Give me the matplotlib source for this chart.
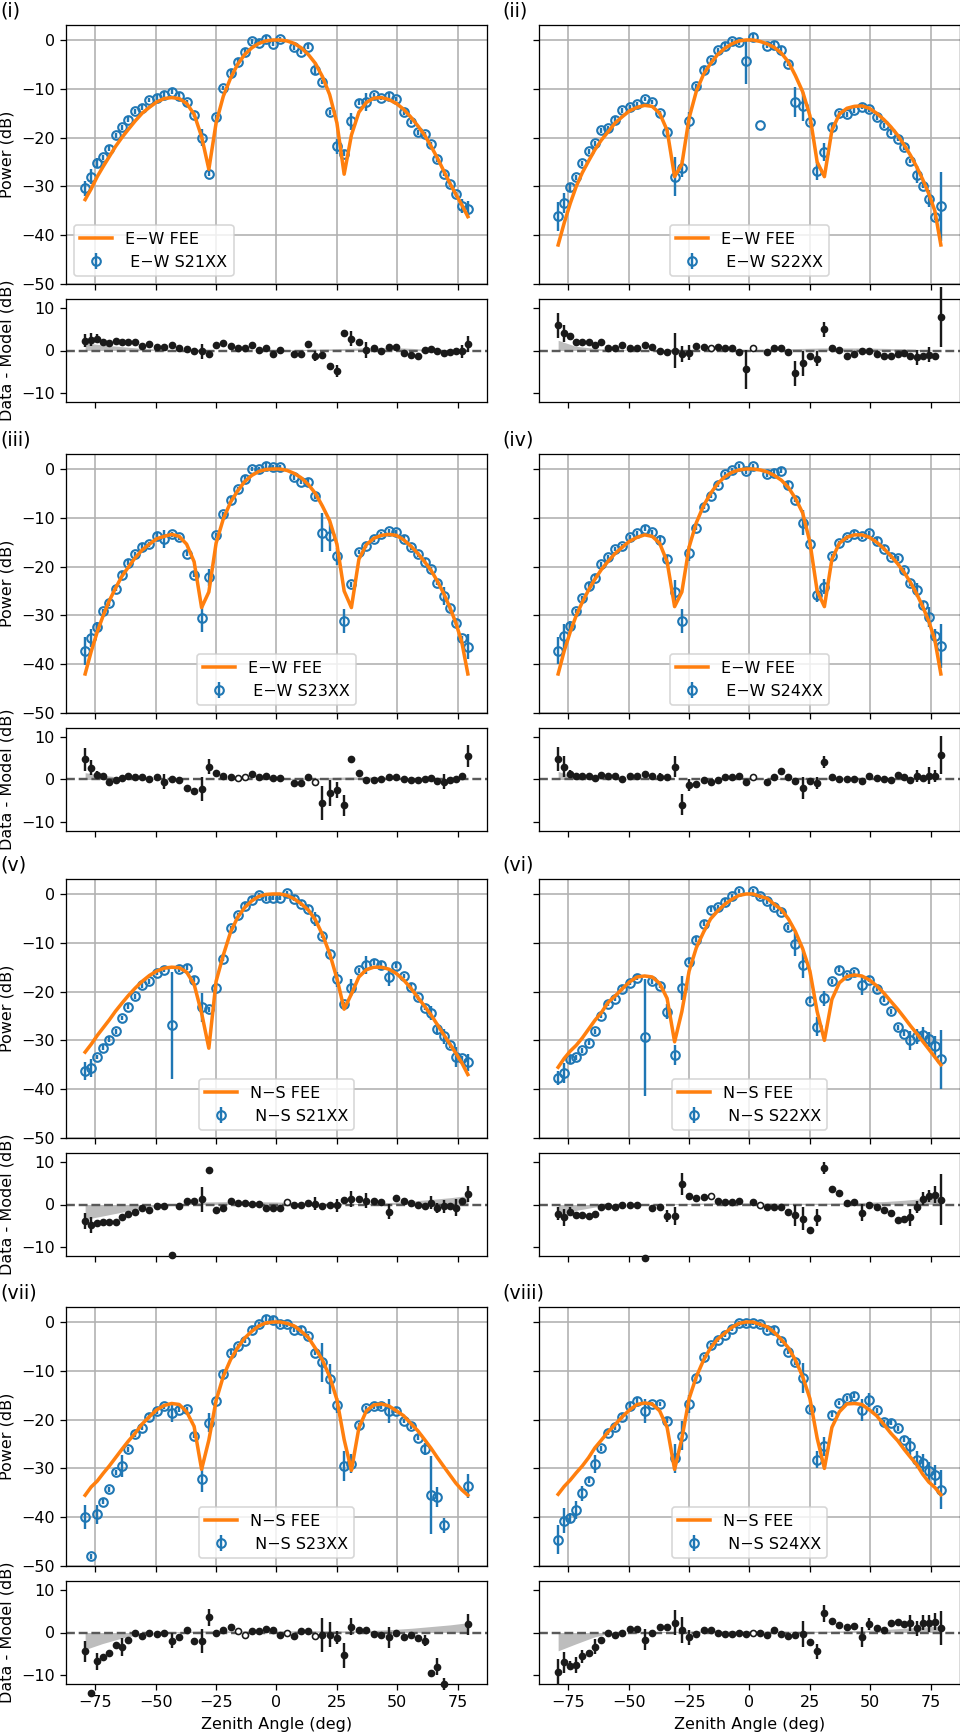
import numpy as np
import matplotlib
matplotlib.use("Agg")
import matplotlib.pyplot as plt

nan = np.nan

# zenith angle of each beam-slice sample (deg)
zenith = [-79.2, -76.7, -74.2, -71.7, -69.2, -66.6, -64.0, -61.3, -58.5, -55.6,
          -52.6, -49.6, -46.5, -43.4, -40.3, -37.2, -34.1, -31.0, -28.0, -25.0,
          -22.0, -19.0, -16.1, -13.2, -10.2, -7.3, -4.4, -1.4, 1.4, 4.4,
          7.3, 10.2, 13.2, 16.1, 19.0, 22.0, 25.0, 28.0, 31.0, 34.1,
          37.2, 40.3, 43.4, 46.5, 49.6, 52.6, 55.6, 58.5, 61.3, 64.0,
          66.6, 69.2, 71.7, 74.2, 76.7, 79.2]

tags = ["(i)", "(ii)", "(iii)", "(iv)", "(v)", "(vi)", "(vii)", "(viii)"]
pols = ["E\u2212W"] * 4 + ["N\u2212S"] * 4
tiles = ["S21XX", "S22XX", "S23XX", "S24XX"] * 2

# FEE model (dB)
fee_1 = [-32.7, -30.5, -28.0, -25.9, -23.9, -21.8, -20.0, -18.3, -16.6, -15.0,
         -13.8, -12.7, -12.0, -11.8, -12.0, -13.0, -15.2, -19.8, -26.5, -17.0,
         -11.5, -7.8, -5.0, -3.0, -1.6, -0.7, -0.2, 0.0, 0.0, -0.2,
         -0.7, -1.6, -3.0, -4.8, -7.5, -11.2, -17.0, -27.5, -19.5, -14.8,
         -12.8, -11.9, -11.8, -12.2, -13.0, -14.2, -15.8, -17.6, -19.5, -21.8,
         -24.2, -26.8, -29.3, -31.6, -33.8, -36.2]
fee_2 = [-42.0, -37.5, -33.5, -30.0, -27.2, -24.8, -22.5, -20.5, -18.8, -17.0,
         -15.7, -14.5, -13.8, -13.4, -13.6, -15.0, -18.5, -28.0, -25.5, -16.0,
         -10.5, -7.0, -4.8, -3.0, -1.7, -0.8, -0.2, 0.0, 0.0, -0.3,
         -0.8, -1.5, -2.7, -4.5, -7.3, -10.6, -15.5, -25.0, -28.0, -18.5,
         -15.2, -14.0, -13.6, -13.5, -14.0, -15.0, -16.3, -17.8, -19.5, -21.5,
         -23.6, -26.0, -28.6, -31.5, -35.0, -42.0]
fee_3 = [-42.0, -37.4, -33.4, -30.0, -27.0, -24.4, -22.0, -20.1, -18.2, -16.6,
         -15.4, -14.3, -13.8, -13.4, -13.8, -15.4, -19.0, -28.4, -25.2, -15.2,
         -10.2, -6.8, -4.5, -2.6, -1.3, -0.5, -0.1, 0.0, 0.0, -0.3,
         -0.9, -1.8, -3.2, -5.0, -7.6, -10.6, -15.4, -25.0, -28.4, -18.5,
         -15.5, -14.2, -13.6, -13.4, -13.6, -14.5, -15.8, -17.3, -19.0, -20.8,
         -23.0, -25.5, -28.3, -31.5, -35.5, -42.0]
fee_4 = [-42.0, -37.3, -33.4, -30.0, -27.3, -24.8, -22.6, -20.6, -18.9, -17.3,
         -16.0, -14.8, -14.0, -13.5, -13.8, -15.2, -19.0, -28.2, -25.2, -16.0,
         -11.0, -7.5, -5.0, -3.0, -1.6, -0.7, -0.2, 0.0, 0.0, -0.2,
         -0.6, -1.3, -2.3, -3.8, -6.0, -9.0, -15.0, -25.0, -28.2, -18.5,
         -15.2, -14.0, -13.5, -13.5, -14.0, -15.0, -16.3, -17.8, -19.4, -21.2,
         -23.2, -25.6, -28.2, -31.2, -35.0, -42.0]
fee_5 = [-32.4, -30.8, -29.0, -27.4, -25.8, -24.0, -22.4, -20.8, -19.3, -17.9,
         -16.7, -15.8, -15.2, -15.0, -15.1, -16.0, -18.5, -24.4, -31.6, -17.9,
         -12.5, -7.8, -4.8, -2.8, -1.4, -0.5, -0.1, 0.0, 0.0, -0.3,
         -1.0, -2.0, -3.3, -5.3, -8.3, -12.2, -17.3, -23.6, -20.5, -17.0,
         -15.5, -15.0, -15.0, -15.4, -16.3, -17.6, -19.3, -21.2, -23.0, -24.8,
         -26.8, -28.8, -30.7, -32.6, -34.6, -37.0]
fee_6 = [-35.5, -33.7, -32.2, -31.0, -29.5, -27.7, -25.9, -24.3, -22.2, -20.9,
         -19.4, -18.0, -17.0, -16.8, -17.0, -18.3, -21.4, -30.3, -24.1, -15.8,
         -11.0, -7.8, -5.1, -3.5, -2.1, -1.1, -0.3, 0.0, 0.0, -0.5,
         -0.9, -2.1, -3.2, -5.1, -7.7, -11.2, -15.8, -24.1, -30.0, -21.6,
         -18.2, -16.9, -16.6, -16.8, -17.6, -18.8, -20.3, -22.0, -23.6, -25.3,
         -27.0, -28.6, -30.2, -31.8, -33.4, -35.0]
fee_7 = [-35.5, -33.8, -32.6, -31.0, -29.5, -27.8, -26.1, -24.4, -22.8, -20.9,
         -19.4, -18.0, -17.1, -16.7, -16.9, -18.4, -21.4, -30.2, -24.2, -16.1,
         -11.1, -7.7, -5.3, -3.3, -1.9, -0.8, -0.2, 0.0, 0.0, -0.3,
         -0.8, -1.9, -3.2, -5.4, -7.8, -11.2, -15.9, -24.1, -30.4, -21.7,
         -18.2, -17.0, -16.8, -17.2, -18.2, -19.2, -20.8, -22.3, -24.1, -25.9,
         -27.8, -29.6, -31.3, -33.0, -34.4, -35.5]
fee_8 = [-35.3, -33.7, -32.4, -30.9, -29.5, -27.8, -25.8, -24.2, -22.5, -21.0,
         -19.4, -18.0, -16.9, -16.6, -16.8, -18.2, -21.6, -30.2, -23.9, -15.7,
         -11.2, -7.8, -5.3, -3.5, -2.3, -1.1, -0.3, 0.0, 0.0, -0.5,
         -1.0, -2.1, -3.6, -5.3, -7.8, -11.2, -15.7, -23.8, -30.0, -21.6,
         -18.4, -16.8, -16.7, -16.9, -18.0, -19.2, -21.0, -22.8, -24.3, -26.1,
         -27.7, -29.2, -31.2, -32.8, -33.9, -35.4]

# data - model (dB)
res_1 = [2.3, 2.5, 2.8, 1.9, 1.65, 2.3, 2.1, 2.0, 2.0, 1.1,
         1.5, 0.9, 0.8, 1.2, 0.55, 0.3, -0.1, -0.2, -0.9, 1.2,
         1.65, 1.1, 0.55, 0.55, 1.3, 0.15, 0.5, -0.8, 0.15, nan,
         -0.8, -0.8, 1.6, -1.3, -1.1, -3.6, -4.8, 4.2, 2.8, 1.9,
         0.15, 0.55, -0.1, 0.8, 0.9, -0.6, -1.0, -1.3, 0.15, 0.4,
         -0.2, -0.6, -0.3, 0.0, -0.2, 1.5]
res_2 = [5.9, 4.1, 3.3, 1.9, 1.9, 2.0, 1.3, 2.0, 0.7, 0.7,
         1.3, 0.7, 0.6, 1.3, 0.9, 0.0, -0.4, 0.0, -0.8, -0.5,
         1.0, 0.9, 0.6, 0.9, 0.5, 0.6, -0.3, -4.4, 0.7, -17.1,
         -0.4, 0.5, 0.7, -0.4, -5.4, -3.0, -1.3, -1.9, 5.0, 0.7,
         0.2, -1.2, -0.8, -0.2, -0.2, -0.8, -1.2, -1.2, -0.8, -0.5,
         -1.2, -1.6, -1.3, -1.0, -1.3, 7.9]
res_3 = [4.7, 2.8, 1.1, 0.8, -0.5, -0.2, 0.3, 0.9, 0.7, 0.7,
         0.0, 0.6, -0.5, 0.0, -0.2, -2.0, -2.7, -2.2, 3.0, 1.6,
         0.9, 0.5, 0.3, 0.6, 1.3, 0.5, 0.8, 0.4, 0.4, nan,
         -0.8, -0.8, 0.6, -0.6, -5.5, -3.2, -2.5, -6.1, 4.8, 1.5,
         -0.2, -0.2, 0.2, 0.6, 0.6, 0.2, -0.2, -0.2, 0.0, 0.3,
         -0.3, -0.5, -0.2, 0.0, 0.8, 5.6]
res_4 = [4.8, 3.0, 1.3, 0.9, 0.8, 0.9, 0.3, 1.1, 0.8, 0.9,
         0.2, 0.8, 0.8, 1.3, 0.8, 0.6, 0.6, 3.0, -5.9, -1.3,
         -1.1, -0.2, -0.5, -0.2, 0.5, 0.5, 0.8, -0.5, 0.6, nan,
         -0.5, 0.5, 1.9, 0.6, -0.3, -2.0, -0.3, -0.8, 4.1, 0.6,
         0.0, 0.0, 0.2, -0.3, 0.8, 0.3, 0.0, -0.2, 1.1, 0.5,
         -0.2, 0.8, 0.4, 0.9, 0.8, 5.8]
res_5 = [-3.9, -4.8, -4.4, -4.1, -4.1, -4.1, -3.0, -2.3, -1.7, -0.8,
         -1.2, -0.3, -0.3, -11.9, -0.3, 0.9, 0.9, 1.2, 8.0, -1.4,
         -0.8, 0.8, 0.4, 0.4, 0.2, 0.2, -0.8, -0.8, -0.8, 0.5,
         0.0, 0.0, 0.3, 0.2, -0.3, -0.2, -0.2, 1.0, 1.3, 1.4,
         0.9, 0.9, 0.5, -1.7, 1.6, 0.8, 0.3, 0.0, -0.3, 0.4,
         -0.8, -0.4, -0.3, -0.8, 0.9, 2.5]
res_6 = [-2.2, -3.0, -1.7, -2.5, -2.5, -2.8, -2.2, -0.6, -0.3, -0.6,
         0.0, -0.2, -0.2, -12.6, -0.9, -0.5, -2.7, -2.7, 4.8, 1.9,
         1.6, 1.7, 1.9, 0.8, 0.5, 0.6, 0.9, nan, 0.6, 0.0,
         -0.6, -0.6, -0.5, -1.7, -2.5, -3.3, -6.1, -3.1, 8.6, 3.75,
         2.7, 0.3, 0.6, -1.9, 0.0, -0.6, -1.4, -2.0, -3.7, -3.3,
         -3.0, -0.6, 1.4, 2.0, 2.3, 1.1]
res_7 = [-4.4, -14.2, -6.8, -5.8, -4.8, -3.0, -3.4, -1.7, -0.2, -0.8,
         0.0, -0.3, -0.2, -1.9, -1.1, 0.5, -1.9, -1.9, 3.6, 0.0,
         0.5, 1.4, 0.3, -0.5, 0.3, 0.3, 0.9, 0.5, -0.5, -0.2,
         -0.8, 0.3, 0.3, -0.9, -0.5, -0.5, -1.2, -5.4, 1.4, 0.5,
         0.5, -0.3, -0.5, -1.1, 0.0, -1.1, -0.6, -1.4, -1.9, -9.5,
         -8.1, -12.1, nan, nan, nan, 1.9]
res_8 = [-9.3, -7.0, -7.8, -7.6, -5.6, -4.7, -3.3, -1.7, -0.2, -0.6,
         0.0, 0.8, 0.8, -1.7, 0.0, 1.4, 1.4, 2.3, 0.6, -1.1,
         -0.3, 0.6, 0.5, -0.2, -0.3, -0.3, 0.0, -0.3, -0.2, 0.0,
         -0.6, 0.5, -0.3, -0.8, -0.5, -0.3, -2.2, -4.4, 4.5, 2.6,
         1.8, 1.2, 1.6, -1.1, 2.0, 1.1, 0.5, 2.2, 2.5, 2.0,
         2.2, 1.0, 2.3, 2.2, 2.5, 1.0]

# 1-sigma errors: 0.5 dB unless listed (index: err)
err_base = 0.5
err_1 = {0: 1.5, 1: 1.5, 2: 1.0, 17: 1.8, 33: 1.1, 36: 1.5, 38: 1.8, 40: 1.8, 54: 1.5, 55: 1.8}
err_2 = {0: 3.0, 1: 2.0, 2: 0.8, 17: 4.0, 18: 1.8, 19: 1.8, 27: 4.6, 29: nan, 34: 3.0,
         35: 3.0, 37: 1.8, 38: 1.8, 51: 1.8, 53: 1.8, 55: 7.0}
err_3 = {0: 2.8, 1: 1.8, 2: 1.0, 12: 1.8, 17: 2.8, 18: 1.8, 34: 4.0, 35: 3.0, 36: 1.8,
         37: 2.5, 51: 1.8, 55: 2.6}
err_4 = {0: 2.8, 1: 2.5, 2: 1.0, 15: 1.0, 17: 2.5, 18: 2.5, 19: 1.5, 35: 2.5, 37: 1.5,
         38: 1.5, 51: 1.5, 53: 2.0, 54: 1.5, 55: 4.5}
err_5 = {0: 1.8, 1: 1.8, 13: 11.0, 17: 3.0, 33: 1.5, 36: 1.5, 38: 1.8, 40: 1.8, 43: 1.8,
         49: 1.5, 50: 1.2, 51: 1.5, 53: 2.0, 55: 1.8}
err_6 = {0: 1.5, 1: 2.0, 2: 1.0, 13: 12.0, 16: 1.5, 17: 2.0, 18: 2.5, 34: 2.5, 35: 2.8,
         37: 2.0, 38: 1.5, 43: 2.0, 50: 2.0, 51: 1.5, 52: 1.5, 53: 1.5, 54: 2.0, 55: 6.0}
err_7 = {0: 2.5, 2: 2.0, 6: 2.2, 13: 1.8, 17: 2.8, 18: 2.0, 34: 4.0, 35: 3.0, 36: 1.5,
         37: 3.0, 38: 2.0, 43: 2.5, 48: 1.2, 49: 8.0, 50: 2.0, 51: 1.5, 55: 2.5}
err_8 = {0: 3.0, 1: 2.5, 2: 1.0, 3: 1.8, 4: 1.5, 6: 1.8, 13: 2.5, 17: 3.0, 18: 3.0, 19: 1.8,
         35: 3.0, 37: 1.8, 38: 2.0, 43: 2.3, 44: 1.5, 50: 1.8, 51: 1.8, 52: 1.8, 53: 2.0,
         54: 2.0, 55: 4.0}

# residual-panel errors that differ from the power-panel ones
res_err_5 = {13: 0.6}
res_err_6 = {13: 0.6}
res_err_7 = {49: 0.8}

# residual points drawn open
hollow = [[], [22, 28], [22, 23, 33], [28], [29], [22, 29], [22, 23, 29, 33], [28]]

# grey band in residual panels
band_za = [-79.2, -72, -64, -56, -48, -40, -30, -15, 0, 15, 30, 40, 48, 56, 64, 72, 79.2]
band_1 = [1.8, 1.3, 0.9, 0.5, 0.3, 0.1, 0.0, 0.0, 0.1, 0.3, 0.5, 0.7, 0.7, 0.5, 0.2, 0.1, 0.0]
band_2 = [2.4, 1.0, 0.5, 0.2, 0.1, 0.0, 0.0, 0.0, 0.2, 0.4, 0.6, 0.6, 0.6, 0.5, 0.4, 0.2, 0.0]
band_3 = [1.6, 1.0, 0.5, 0.2, 0.1, 0.0, 0.0, 0.0, 0.2, 0.4, 0.6, 0.6, 0.5, 0.3, 0.2, 0.1, 0.0]
band_4 = [1.9, 0.5, 0.2, 0.1, 0.1, 0.0, 0.0, 0.0, 0.1, 0.3, 0.5, 0.5, 0.4, 0.3, 0.2, 0.1, 0.0]
band_5 = [-3.5, -2.7, -1.8, -1.0, -0.3, 0.2, 0.6, 0.7, 0.6, 0.3, 0.2, 0.3, 0.5, 0.8, 1.2, 1.6, 2.1]
band_6 = [-2.5, -1.4, -0.6, -0.1, 0.0, 0.0, 0.2, 0.4, 0.4, 0.3, 0.3, 0.4, 0.5, 0.7, 1.0, 1.4, 1.6]
band_7 = [-4.0, -2.6, -1.3, -0.4, 0.0, 0.2, 0.4, 0.4, 0.4, 0.4, 0.4, 0.5, 0.7, 1.0, 1.4, 1.8, 2.3]
band_8 = [-4.3, -2.7, -1.0, 0.0, 0.0, 0.2, 0.3, 0.4, 0.4, 0.3, 0.3, 0.4, 0.5, 0.7, 1.0, 1.3, 1.5]

fees = [fee_1, fee_2, fee_3, fee_4, fee_5, fee_6, fee_7, fee_8]
ress = [res_1, res_2, res_3, res_4, res_5, res_6, res_7, res_8]
errs = [err_1, err_2, err_3, err_4, err_5, err_6, err_7, err_8]
res_errs = [{}, {}, {}, {}, res_err_5, res_err_6, res_err_7, {}]
bands = [band_1, band_2, band_3, band_4, band_5, band_6, band_7, band_8]

W, H = 961, 1732
fig = plt.figure(figsize=(W / 115, H / 115), dpi=115)

col_x = [66, 539]
row_top = [25, 454, 879, 1307]
ax_w = 421


def box(x, top, w, h):
    return [x / W, 1 - (top + h) / H, w / W, h / H]


za = np.array(zenith)
for k in range(8):
    r, c = divmod(k, 2)
    model = np.array(fees[k])
    resid = np.array(ress[k])
    data = model + resid
    err = np.full(len(za), err_base)
    for i, v in errs[k].items():
        err[i] = v
    rerr = err.copy()
    for i, v in res_errs[k].items():
        rerr[i] = v

    ax = fig.add_axes(box(col_x[c], row_top[r], ax_w, 259))
    axr = fig.add_axes(box(col_x[c], row_top[r] + 274, ax_w, 103))

    # main panel
    ax.errorbar(za, data, yerr=err, fmt="o", ms=5.4, mfc="none", mec="C0", mew=1.3,
                ecolor="C0", elinewidth=1.5, label=f" {pols[k]} {tiles[k]}", zorder=2)
    ax.plot(za, model, color="C1", lw=2.2, label=f"{pols[k]} FEE", zorder=3)
    ax.grid(True, color="#b0b0b0", lw=1.0)
    ax.set_axisbelow(True)
    ax.set_xlim(-87.12, 87.12)
    ax.set_ylim(-50, 3.07)
    ax.set_xticks([-75, -50, -25, 0, 25, 50, 75])
    ax.set_yticks([-50, -40, -30, -20, -10, 0])
    ax.tick_params(labelbottom=False, labelleft=(c == 0))
    ax.legend(loc="lower left" if k == 0 else "lower center")
    if c == 0:
        ax.set_ylabel("Power (dB)")

    # residual panel
    axr.fill_between(band_za, 0, bands[k], color="0.74", lw=0, zorder=1)
    axr.axhline(0, color="0.35", ls="--", lw=1.5, zorder=2)
    solid = np.isfinite(err) & np.isfinite(resid)
    solid[hollow[k]] = False
    axr.errorbar(za[solid], resid[solid], yerr=rerr[solid], fmt="o", ms=3.8,
                 color="#1a1a1a", elinewidth=1.5, clip_on=False, zorder=3)
    hk = hollow[k]
    axr.plot(za[hk], resid[hk], "o", ms=3.8, mfc="white", mec="#1a1a1a", mew=1.0, zorder=4)
    axr.set_xlim(-87.12, 87.12)
    axr.set_ylim(-12.1, 12.1)
    axr.set_xticks([-75, -50, -25, 0, 25, 50, 75])
    axr.set_yticks([-10, 0, 10])
    axr.tick_params(labelbottom=(r == 3), labelleft=(c == 0))
    if c == 0:
        axr.set_ylabel("Data - Model (dB)")
    if r == 3:
        axr.set_xlabel("Zenith Angle (deg)")

    fig.text((0 if c == 0 else 502) / W, 1 - (row_top[r] - 14) / H, tags[k],
             fontsize=12, ha="left", va="center")

fig.savefig("out.png", dpi=115)
